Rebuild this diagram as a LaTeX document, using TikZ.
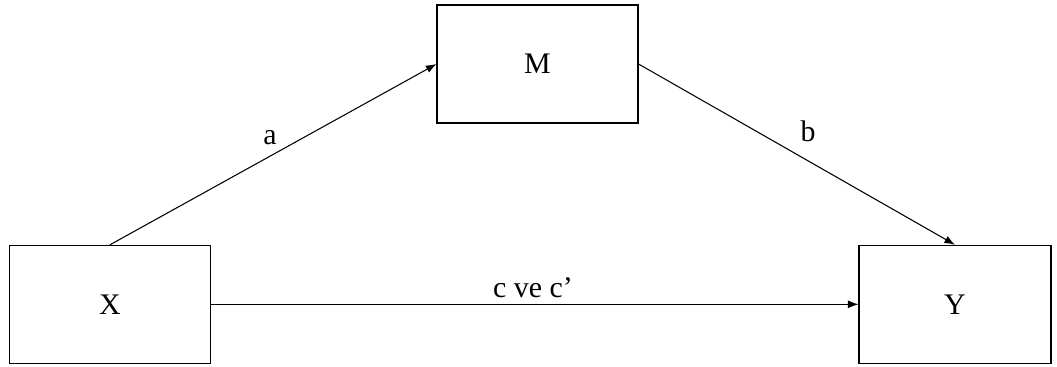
\documentclass[tikz,border=0pt]{standalone}
\usepackage{fontspec}
\setmainfont{Liberation Serif}
\usetikzlibrary{arrows.meta}
\tikzset{
    var/.style={draw,line width=0.6pt,inner sep=0pt,minimum height=2.36cm},
    path/.style={line width=0.6pt,-{Latex[length=6pt,width=4.5pt]}}
}

\begin{document}
\begin{tikzpicture}[font=\fontsize{17}{20}\selectfont]
            \useasboundingbox (0,0) rectangle (21.14,7.32);
            \node[var,minimum width=4.02cm] (M) at (10.75,6.04) {M};
            \node[var,minimum width=4.03cm] (X) at (2.20,1.234) {X};
            \node[var,minimum width=3.84cm] (Y) at (19.10,1.234) {Y};
            \draw[path] (X.north) -- (M.west);
            \draw[path] (M.east) -- (Y.north);
            \draw[path] (X.east) -- (Y.west);
            \node (la) at (5.40,4.56) {a};
            \node (lb) at (16.16,4.70) {b};
            \node (lc) at (10.66,1.56) {c ve c'};
        \end{tikzpicture}
\end{document}
